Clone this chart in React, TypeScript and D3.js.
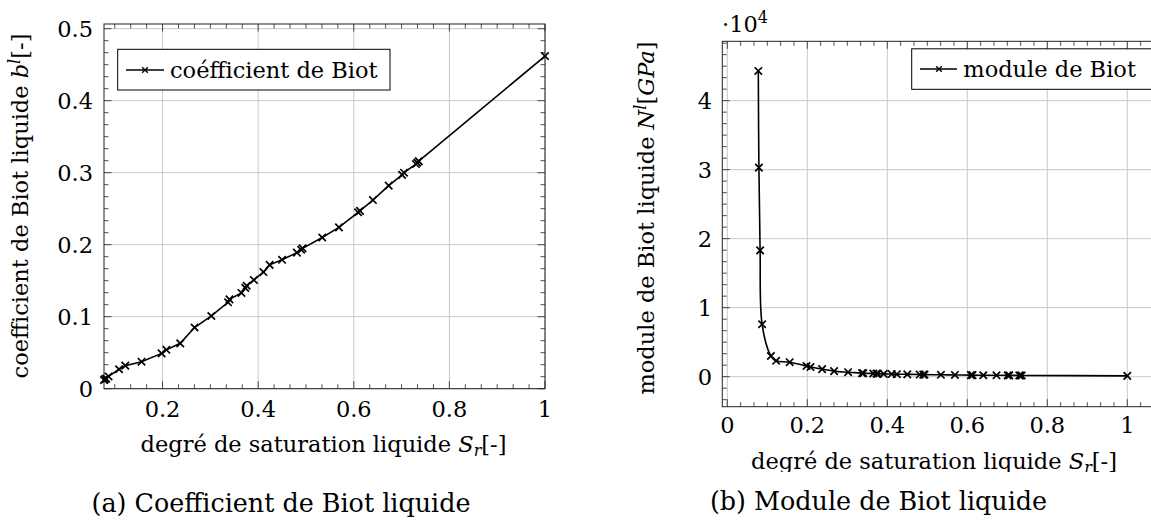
import React from "react";
import * as d3 from "d3";

// ---- data ----
const saturation = [0.0775, 0.079, 0.082, 0.087, 0.109, 0.122, 0.156, 0.198, 0.208, 0.237, 0.267, 0.302, 0.337, 0.340, 0.365, 0.373, 0.376, 0.391, 0.411, 0.424, 0.450, 0.481, 0.490, 0.493, 0.534, 0.569, 0.609, 0.613, 0.640, 0.673, 0.701, 0.705, 0.730, 0.733, 0.736, 1.0];
const biotCoef = [0.012, 0.013, 0.014, 0.017, 0.027, 0.032, 0.0375, 0.049, 0.054, 0.063, 0.085, 0.101, 0.120, 0.124, 0.133, 0.140, 0.143, 0.151, 0.162, 0.172, 0.179, 0.189, 0.193, 0.195, 0.210, 0.224, 0.245, 0.247, 0.262, 0.282, 0.297, 0.300, 0.312, 0.314, 0.316, 0.462];
const biotModulus = [44300, 30300, 18300, 7600, 3000, 2300, 2100, 1550, 1400, 1100, 800, 650, 520, 500, 460, 440, 430, 400, 380, 360, 340, 310, 300, 300, 270, 250, 230, 230, 210, 200, 190, 190, 180, 180, 180, 120];

const xTicksA = [0.2, 0.4, 0.6, 0.8, 1];
const xTickLabelsA = ["0.2", "0.4", "0.6", "0.8", "1"];
const yTicksA = [0, 0.1, 0.2, 0.3, 0.4, 0.5];
const yTickLabelsA = ["0", "0.1", "0.2", "0.3", "0.4", "0.5"];
const xTicksB = [0, 0.2, 0.4, 0.6, 0.8, 1];
const xTickLabelsB = ["0", "0.2", "0.4", "0.6", "0.8", "1"];
const yTicksB = [0, 10000, 20000, 30000, 40000];
const yTickLabelsB = ["0", "1", "2", "3", "4"];

const FONT = "'DejaVu Serif', serif";
const FS = 22.5;
const CAP = 25.4;
const SUB = 16;
const GRID = "#c8c8c8";
const AXIS = "#222";
const MID = 8.2;

function minorTicks(domain: number[], step: number, n: number) {
  const sub = step / (n + 1);
  const out: { v: number; major: boolean }[] = [];
  const start = Math.ceil(domain[0] / sub - 1e-6);
  const end = Math.floor(domain[1] / sub + 1e-6);
  for (let i = start; i <= end; i++) {
    const v = i * sub;
    out.push({ v, major: Math.abs(i % (n + 1)) === 0 });
  }
  return out;
}

function xMark(px: number, py: number, h: number) {
  return `M${px - h},${py - h}L${px + h},${py + h}M${px - h},${py + h}L${px + h},${py - h}`;
}

type FrameProps = {
  x: d3.ScaleLinear<number, number>;
  y: d3.ScaleLinear<number, number>;
  xMajors: number[];
  yMajors: number[];
  xStep: number;
  yStep: number;
};

function Frame({ x, y, xMajors, yMajors, xStep, yStep }: FrameProps) {
  const [x0, x1] = x.range();
  const [y0, y1] = y.range(); // y0 bottom, y1 top
  const xt = minorTicks(x.domain(), xStep, 5);
  const yt = minorTicks(y.domain(), yStep, 5);
  const MAJ = 7.5, MIN = 4.5;
  return (
    <g>
      {xMajors.map((v) => (
        <line key={"gx" + v} x1={x(v)} x2={x(v)} y1={y0} y2={y1} stroke={GRID} strokeWidth={1} />
      ))}
      {yMajors.map((v) => (
        <line key={"gy" + v} x1={x0} x2={x1} y1={y(v)} y2={y(v)} stroke={GRID} strokeWidth={1} />
      ))}
      {xt.map((t, i) => {
        const L = t.major ? MAJ : MIN;
        return (
          <g key={"tx" + i}>
            <line x1={x(t.v)} x2={x(t.v)} y1={y0} y2={y0 - L} stroke={AXIS} strokeWidth={0.8} />
            <line x1={x(t.v)} x2={x(t.v)} y1={y1} y2={y1 + L} stroke={AXIS} strokeWidth={0.8} />
          </g>
        );
      })}
      {yt.map((t, i) => {
        const L = t.major ? MAJ : MIN;
        return (
          <g key={"ty" + i}>
            <line x1={x0} x2={x0 + L} y1={y(t.v)} y2={y(t.v)} stroke={AXIS} strokeWidth={0.8} />
            <line x1={x1} x2={x1 - L} y1={y(t.v)} y2={y(t.v)} stroke={AXIS} strokeWidth={0.8} />
          </g>
        );
      })}
      <rect x={x0} y={y1} width={x1 - x0} height={y0 - y1} fill="none" stroke={AXIS} strokeWidth={1} />
    </g>
  );
}

export default function App() {
  // ---------- chart (a) ----------
  const xA = d3.scaleLinear().domain([0.0775, 1]).range([104, 545]);
  const yA = d3.scaleLinear().domain([0, 0.5065]).range([388.7, 24]);
  const lineA = d3
    .line<number>()
    .x((_, i) => xA(saturation[i]))
    .y((d) => yA(d))
    .curve(d3.curveLinear);

  // ---------- chart (b) ----------
  const xB = d3.scaleLinear().domain([-0.0125, 1.092]).range([722.3, 722.3 + 1.1045 * 400]);
  const yB = d3.scaleLinear().domain([-4350, 48600]).range([406.7, 41.3]);
  const lineB = d3
    .line<number>()
    .x((_, i) => xB(saturation[i]))
    .y((d) => yB(d))
    .curve(d3.curveCatmullRom.alpha(0.5));

  const H = 3.7;

  return (
    <svg
      width={1151}
      height={520}
      viewBox="0 0 1151 520"
      style={{ position: "absolute", left: 0, top: 0, display: "block", background: "#fff" }}
      fontFamily={FONT}
      fontSize={FS}
    >
      <rect x={0} y={0} width={1151} height={520} fill="#fff" />
      {/* ===== (a) ===== */}
      <Frame x={xA} y={yA} xMajors={xTicksA} yMajors={yTicksA} xStep={0.2} yStep={0.1} />
      <path d={lineA(biotCoef) || ""} fill="none" stroke="#000" strokeWidth={1.6} />
      {biotCoef.map((v, i) => (
        <path key={"ma" + i} d={xMark(xA(saturation[i]), yA(v), H)} stroke="#000" strokeWidth={1.7} fill="none" />
      ))}
      {xTicksA.map((v, i) => (
        <text key={"lxa" + i} x={xA(v)} y={416.7} textAnchor="middle">
          {xTickLabelsA[i]}
        </text>
      ))}
      {yTicksA.map((v, i) => (
        <text key={"lya" + i} x={93} y={yA(v) + MID} textAnchor="end">
          {yTickLabelsA[i]}
        </text>
      ))}
      <text x={323.5} y={452} textAnchor="middle">
        degré de saturation liquide <tspan fontStyle="italic">S</tspan>
        <tspan fontStyle="italic" fontSize={SUB} dy={4}>r</tspan>
        <tspan dy={-4}>[-]</tspan>
      </text>
      <text transform="translate(28,206) rotate(-90)" textAnchor="middle">
        coefficient de Biot liquide <tspan fontStyle="italic">b</tspan>
        <tspan fontStyle="italic" fontSize={SUB} dy={-8}>l</tspan>
        <tspan dy={8}>[-]</tspan>
      </text>
      {/* legend (a) */}
      <rect x={117.7} y={49.3} width={272.3} height={40.7} fill="#fff" stroke="#000" strokeWidth={1} />
      <line x1={126} x2={164} y1={70} y2={70} stroke="#000" strokeWidth={1.6} />
      <path d={xMark(145, 70, 2.8)} stroke="#000" strokeWidth={1.4} fill="none" />
      <text x={170} y={77.5}>coéfficient de Biot</text>
      <text x={281} y={511.7} textAnchor="middle" fontSize={CAP}>(a) Coefficient de Biot liquide</text>

      {/* ===== (b) ===== */}
      <defs>
        <clipPath id="clipB">
          <rect x={600} y={0} width={551} height={472} />
        </clipPath>
      </defs>
      <g clipPath="url(#clipB)">
        <Frame x={xB} y={yB} xMajors={xTicksB} yMajors={yTicksB} xStep={0.2} yStep={10000} />
        <path d={lineB(biotModulus) || ""} fill="none" stroke="#000" strokeWidth={1.6} />
        {biotModulus.map((v, i) => (
          <path key={"mb" + i} d={xMark(xB(saturation[i]), yB(v), H)} stroke="#000" strokeWidth={1.7} fill="none" />
        ))}
        {xTicksB.map((v, i) => (
          <text key={"lxb" + i} x={xB(v)} y={433} textAnchor="middle">
            {xTickLabelsB[i]}
          </text>
        ))}
        {yTicksB.map((v, i) => (
          <text key={"lyb" + i} x={712} y={yB(v) + MID} textAnchor="end">
            {yTickLabelsB[i]}
          </text>
        ))}
        <text x={722} y={32.3}>
          ·10<tspan fontSize={SUB} dy={-9}>4</tspan>
        </text>
        <text x={934} y={469} textAnchor="middle">
          degré de saturation liquide <tspan fontStyle="italic">S</tspan>
          <tspan fontStyle="italic" fontSize={SUB} dy={4}>r</tspan>
          <tspan dy={-4}>[-]</tspan>
        </text>
        <text transform="translate(654,218) rotate(-90)" textAnchor="middle">
          module de Biot liquide <tspan fontStyle="italic">N</tspan>
          <tspan fontStyle="italic" fontSize={SUB} dy={-8}>l</tspan>
          <tspan dy={8}>[</tspan>
          <tspan fontStyle="italic">GPa</tspan>]
        </text>
        {/* legend (b) */}
        <rect x={911.7} y={48.8} width={260} height={40.5} fill="#fff" stroke="#000" strokeWidth={1} />
        <line x1={920} x2={957} y1={69} y2={69} stroke="#000" strokeWidth={1.6} />
        <path d={xMark(939, 69, 2.8)} stroke="#000" strokeWidth={1.4} fill="none" />
        <text x={963.3} y={76.5}>module de Biot</text>
      </g>
      <text x={878.5} y={510} textAnchor="middle" fontSize={CAP}>(b) Module de Biot liquide</text>
    </svg>
  );
}
